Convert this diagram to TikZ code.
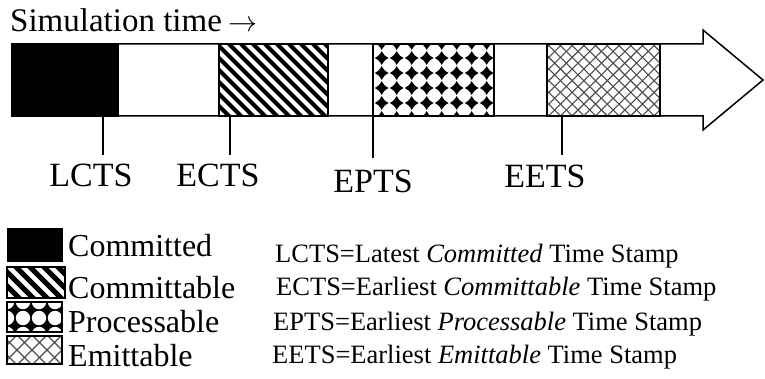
\documentclass[tikz,border=0pt]{standalone}
\usepackage{fontspec}
\setmainfont{Liberation Serif}
\tikzset{
  outline/.style={draw=black,line width=1.6pt},
  tickline/.style={draw=black,line width=1.5pt},
  stripe/.style={draw=black,line width=4.2pt},
  hatchline/.style={draw=black!70,line width=1.1pt},
  poslabel/.style={inner sep=0pt,anchor=base,font=\fontsize{34}{34}\selectfont},
  legtext/.style={inner sep=0pt,anchor=base west,font=\fontsize{32}{32}\selectfont},
  deftext/.style={inner sep=0pt,anchor=base west,font=\fontsize{26.5}{26.5}\selectfont},
  pic diamond/.pic={
    \fill[black] (-6.9,0) .. controls (-2.6,-2.6) .. (0,-6.9)
      .. controls (2.6,-2.6) .. (6.9,0) .. controls (2.6,2.6) .. (0,6.9)
      .. controls (-2.6,2.6) .. cycle;
  },
}
\begin{document}
\begin{tikzpicture}[x=1pt,y=-1pt]
\useasboundingbox (0,0) rectangle (765,379);

% title
\node[inner sep=0pt,anchor=base west,font=\fontsize{33}{33}\selectfont] (title) at (10,32)
  {Simulation time\hspace{7pt}\scalebox{2.9}{\fontsize{10}{10}\selectfont$\rightarrow$}};

% big arrow
\draw[line width=1.5pt,fill=white] (12,44) -- (703,44) -- (703,30) -- (763,80) -- (703,130) -- (703,116) -- (12,116) -- cycle;

% committed
\fill[black] (12,44) rectangle (118,116);
\draw[outline] (12,44) rectangle (118,116);

% committable
\begin{scope}
\clip (219,44) rectangle (328,116);
\foreach \k in {0,...,18} \draw[stripe] ({219-96+\k*12},34) -- ({219-96+\k*12+92},126);
\end{scope}
\draw[outline] (219,44) rectangle (328,116);

% processable
\begin{scope}
\clip (373,44) rectangle (494,116);
\foreach \i in {0,...,7} \foreach \j in {0,...,5}
  \pic at ({381.7+15*\i},{43+15*\j}) {pic diamond};
\end{scope}
\draw[outline] (373,44) rectangle (494,116);

% emittable
\begin{scope}
\clip (547,44) rectangle (660,116);
\foreach \k in {0,...,20} {
  \draw[hatchline] ({547-80+\k*11.7},34) -- ({547-80+\k*11.7+92},126);
  \draw[hatchline] ({547-10+\k*11.7},34) -- ({547-10+\k*11.7-92},126);
}
\end{scope}
\draw[outline] (547,44) rectangle (660,116);

% ticks and labels
\coordinate (t1) at (103,116); \coordinate (b1) at (103,155);
\coordinate (t2) at (230,116); \coordinate (b2) at (230,155);
\coordinate (t3) at (373,116); \coordinate (b3) at (373,158);
\coordinate (t4) at (562,116); \coordinate (b4) at (562,155);
\draw[tickline] (t1) -- (b1);
\draw[tickline] (t2) -- (b2);
\draw[tickline] (t3) -- (b3);
\draw[tickline] (t4) -- (b4);
\node[poslabel] (lcts) at (91,187) {LCTS};
\node[poslabel] (ects) at (218,187) {ECTS};
\node[poslabel] (epts) at (373,193) {EPTS};
\node[poslabel] (eets) at (545,188) {EETS};

% legend swatches
\fill[black] (7,228) rectangle (63,262);
\begin{scope}
\clip (7,267) rectangle (65,298);
\foreach \k in {0,...,9} \draw[draw=black,line width=5pt] ({7-40+\k*14},260) -- ({7-40+\k*14+45},305);
\end{scope}
\draw[line width=1.5pt] (7,267) rectangle (65,298);
\begin{scope}
\clip (7,302) rectangle (62,332);
\fill[black] (7,302) rectangle (62,332);
\foreach \i in {-1,...,4} \foreach \j in {-1,...,2}
  \fill[white] ({7+8+16*\i+8},{302+8+16*\j+8}) circle (7.2);
\end{scope}
\draw[line width=1.5pt] (7,302) rectangle (62,332);
\begin{scope}
\clip (7,336) rectangle (62,364);
\foreach \k in {0,...,10} {
  \draw[hatchline] ({7-40+\k*15},330) -- ({7-40+\k*15+40},370);
  \draw[hatchline] ({7+\k*15},330) -- ({7+\k*15-40},370);
}
\end{scope}
\draw[line width=1.5pt] (7,336) rectangle (62,364);

\node[legtext] (l1) at (68,257) {Committed};
\node[legtext] (l2) at (68,298) {Committable};
\node[legtext] (l3) at (68,332) {Processable};
\node[legtext] (l4) at (68,366) {Emittable};

\node[deftext] (d1) at (275,262) {LCTS=Latest \textit{Committed} Time Stamp};
\node[deftext] (d2) at (276,295) {ECTS=Earliest \textit{Committable} Time Stamp};
\node[deftext] (d3) at (273,330) {EPTS=Earliest \textit{Processable} Time Stamp};
\node[deftext] (d4) at (272,363) {EETS=Earliest \textit{Emittable} Time Stamp};
\end{tikzpicture}
\end{document}
